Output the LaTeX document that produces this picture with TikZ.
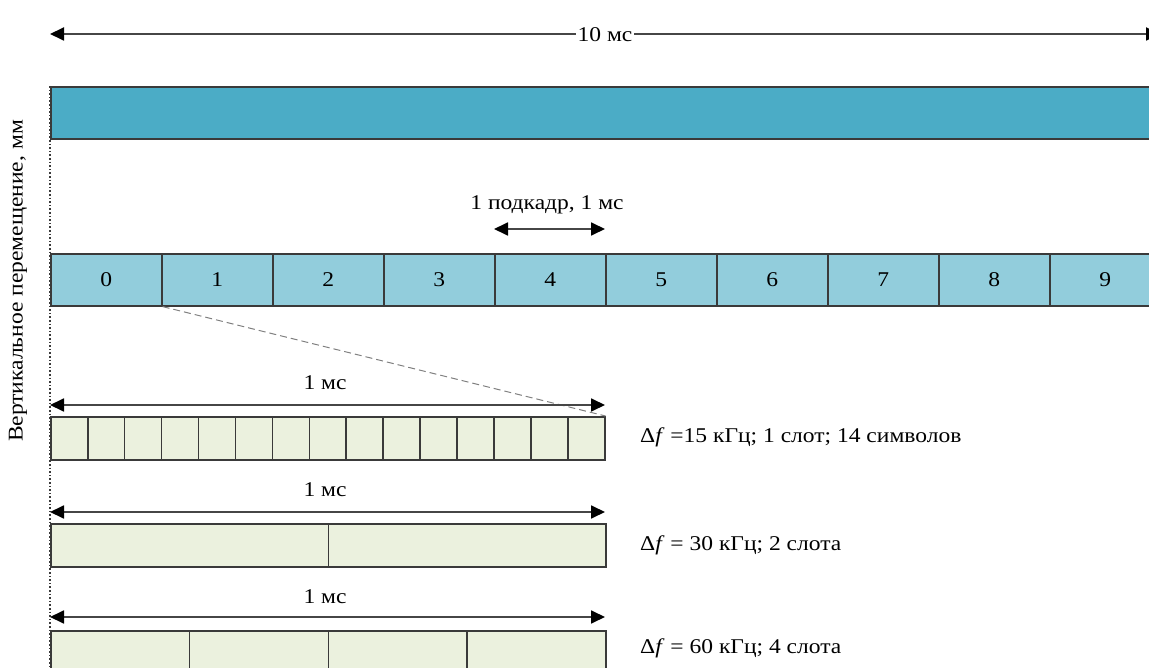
\documentclass[tikz,border=0pt]{standalone}
\usepackage{fontspec}
\setmainfont{Liberation Serif}[FakeStretch=1.12]
\usetikzlibrary{arrows.meta}
\definecolor{frameblue}{HTML}{4BACC6}
\definecolor{subblue}{HTML}{92CDDC}
\definecolor{slotgreen}{HTML}{EBF1DE}
\definecolor{edgegray}{HTML}{3A3A3A}
\tikzset{
  txt/.style={font=\fontsize{21}{24}\selectfont, inner sep=2pt},
  cellbox/.style={draw=edgegray, line width=1.6pt, inner sep=0pt, anchor=north west},
  subcell/.style={cellbox, fill=subblue, minimum height=52pt},
  slotcell/.style={cellbox, fill=slotgreen, minimum height=43pt},
  dimarrow/.style={draw=gray!55!black, line width=1.8pt, {Triangle[length=14pt,width=13pt,color=black]}-{Triangle[length=14pt,width=13pt,color=black]}},
}
\begin{document}
\begin{tikzpicture}[x=1pt,y=-1pt]
\useasboundingbox (0,0) rectangle (1149,668);
\clip (0,0) rectangle (1149,668);
% top 10 ms arrow
\coordinate (tl) at (50,34);
\coordinate (tr) at (1160,34);
\draw[dimarrow] (tl) -- (tr);
\node[txt, fill=white, inner xsep=2pt] (ten) at (605,35) {10 мс};
% frame bar
\node[cellbox, fill=frameblue, minimum width=1120pt, minimum height=52pt] (frame) at (50,86) {};
% dotted axis
\coordinate (ax1) at (50,86);
\coordinate (ax2) at (50,670);
\draw[edgegray, line width=1.6pt, dotted] (ax1) -- (ax2);
\node[txt, rotate=90] (ylab) at (18,281) {Вертикальное перемещение, мм};
% subframes
\foreach \i in {0,...,9} {
  \node[subcell, minimum width=111pt] (s\i) at ({50+111*\i},253) {};
  \node[txt] (n\i) at (s\i.center) {\i};
}
% 1 subframe arrow
\draw[dimarrow] (s4.north west) ++(0,-24) coordinate (sa1) -- ++(111,0) coordinate (sa2);
\node[txt] (sublab) at (547,205) {1 подкадр, 1 мс};
% row 1: 15 cells
\foreach \j in {0,...,14} {
  \node[slotcell, minimum width=36.93pt] (a\j) at ({50+36.93*\j},416) {};
}
\draw[gray, line width=1pt, dash pattern=on 7pt off 4pt] (s0.south east) -- (a14.north east);
\coordinate (r1l) at (50,405);
\coordinate (r1r) at (605,405);
\draw[dimarrow] (r1l) -- (r1r);
\node[txt] (ms1) at (325,383) {1 мс};
\node[txt, anchor=west] (lab1) at (638,437) {Δ\textit{f} =15 кГц; 1 слот; 14 символов};
% row 2
\foreach \j in {0,1} {
  \node[slotcell, minimum width=277.5pt] (b\j) at ({50+277.5*\j},523) {};
}
\coordinate (r2l) at (50,512);
\coordinate (r2r) at (605,512);
\draw[dimarrow] (r2l) -- (r2r);
\node[txt] (ms2) at (325,490) {1 мс};
\node[txt, anchor=west] (lab2) at (638,545) {Δ\textit{f} = 30 кГц; 2 слота};
% row 3
\foreach \j in {0,...,3} {
  \node[slotcell, minimum width=138.75pt, minimum height=50pt] (c\j) at ({50+138.75*\j},630) {};
}
\coordinate (r3l) at (50,617);
\coordinate (r3r) at (605,617);
\draw[dimarrow] (r3l) -- (r3r);
\node[txt] (ms3) at (325,597) {1 мс};
\node[txt, anchor=west] (lab3) at (638,648) {Δ\textit{f} = 60 кГц; 4 слота};
\end{tikzpicture}
\end{document}
